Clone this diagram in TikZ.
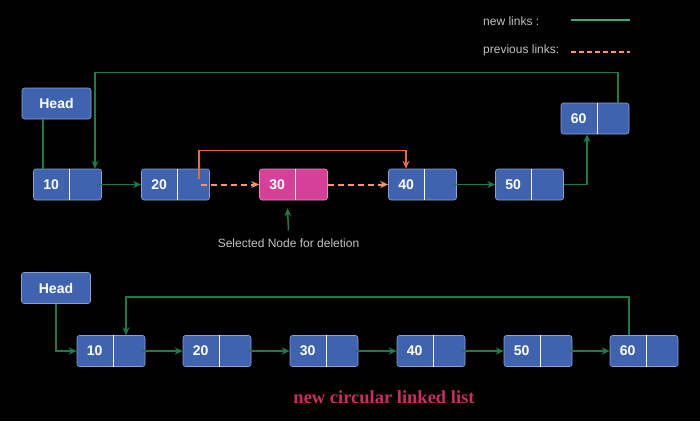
\documentclass[tikz,border=0pt]{standalone}
\usepackage{fontspec}
\setmainfont{Liberation Sans}
\newfontfamily\captionfont{Liberation Serif}
\usetikzlibrary{arrows.meta}

\definecolor{nodeblue}{RGB}{64,99,175}
\definecolor{nodepink}{RGB}{214,64,153}
\definecolor{linkgreen}{RGB}{30,122,70}
\definecolor{keygreen}{RGB}{70,165,110}
\definecolor{linkorange}{RGB}{226,110,64}
\definecolor{linkpeach}{RGB}{240,150,110}
\definecolor{captionred}{RGB}{200,45,100}
\definecolor{notegray}{RGB}{195,195,195}

\tikzset{
    listbox/.style={rectangle, rounded corners=2.5pt, line width=0.6pt, minimum width=68pt, minimum height=31pt, inner sep=0pt},
    headbox/.style={listbox, minimum width=69pt, fill=nodeblue, draw=nodeblue!60!white, text=white, font=\fontsize{14}{16}\selectfont\bfseries},
    valtext/.style={text=white, font=\fontsize{14}{16}\selectfont\bfseries, inner sep=0pt},
    newlink/.style={linkgreen, line width=1.5pt, -{Stealth[length=8pt,width=7pt]}},
    headlink/.style={linkgreen, line width=1.5pt},
    oldlink/.style={linkpeach, line width=2pt, dash pattern=on 6pt off 4pt, -{Stealth[length=8pt,width=7pt]}},
    redirect/.style={linkorange, line width=1.5pt, -{Stealth[length=8pt,width=7pt]}},
    note/.style={text=notegray, font=\fontsize{12}{14}\selectfont, inner sep=1pt},
}

% name, centre, value, colour
\newcommand{\listnode}[4]{%
    \node[listbox, fill=#4, draw=#4!60!white] (#1) at (#2) {};
    \draw[white, line width=0.8pt] ([xshift=36.5pt]#1.north west) -- ([xshift=36.5pt]#1.south west);
    \node[valtext] at ([xshift=18pt]#1.west) {#3};
}

\begin{document}
\begin{tikzpicture}[x=1pt, y=1pt]
    \fill[black] (0,0) rectangle (700,-421);
    \useasboundingbox (0,0) rectangle (700,-421);

    % legend
    \node[note, anchor=west] (newkey) at (482,-21) {new links :};
    \node[note, anchor=west] (oldkey) at (482,-50) {previous links:};
    \draw[keygreen, line width=1.6pt] (571,-20) -- (630,-20);
    \draw[linkpeach, line width=2pt, dash pattern=on 5pt off 3pt] (571,-52) -- (630,-52);

    % list before deletion
    \node[headbox] (head1) at (56.5,-103.5) {Head};
    \listnode{t10}{67.5,-184.5}{10}{nodeblue}
    \listnode{t20}{175.5,-184.5}{20}{nodeblue}
    \listnode{t30}{293.5,-184.5}{30}{nodepink}
    \listnode{t40}{422.5,-184.5}{40}{nodeblue}
    \listnode{t50}{529.5,-184.5}{50}{nodeblue}
    \listnode{t60}{595,-118.5}{60}{nodeblue}

    \coordinate (h1foot) at ([xshift=-13.5pt]head1.south);
    \draw[headlink] (h1foot) -- (h1foot |- t10.north);
    \draw[newlink] ([xshift=23pt]t60.north) -- ++(0,30) -| ([xshift=27.5pt]t10.north);
    \draw[newlink] ([xshift=-5pt]t10.east) -- (t20.west);
    \draw[oldlink] ([xshift=-9pt]t20.east) -- (t30.west);
    \coordinate (t20ptr) at ([xshift=-11pt,yshift=6pt]t20.east);
    \draw[redirect] (t20ptr) -- ++(0,28) -| ([xshift=-16.5pt]t40.north);
    \draw[oldlink] (t30.east) -- (t40.west);
    \draw[newlink] ([xshift=-5pt]t40.east) -- (t50.west);
    \draw[newlink] (t50.east) -| ([xshift=-8pt]t60.south);

    \node[note] (sel) at (288.5,-243) {Selected Node for deletion};
    \coordinate (t30mark) at ([xshift=-6pt,yshift=-8pt]t30.south);
    \draw[newlink] ([yshift=7pt]sel.north) -- (t30mark);

    % list after deletion
    \node[headbox] (head2) at (56,-288) {Head};
    \listnode{b10}{111,-351}{10}{nodeblue}
    \listnode{b20}{217,-351}{20}{nodeblue}
    \listnode{b30}{324,-351}{30}{nodeblue}
    \listnode{b40}{431,-351}{40}{nodeblue}
    \listnode{b50}{538,-351}{50}{nodeblue}
    \listnode{b60}{644,-351}{60}{nodeblue}

    \draw[newlink] (head2.south) |- (b10.west);
    \foreach \a/\b in {b10/b20, b20/b30, b30/b40, b40/b50, b50/b60}
        \draw[newlink] ([xshift=-3pt]\a.east) -- (\b.west);
    \draw[newlink] ([xshift=-15pt]b60.north) -- ++(0,38) -| ([xshift=15pt]b10.north);

    \node[text=captionred, font=\captionfont\bfseries\fontsize{18.5}{20}\selectfont] (cap) at (384,-397) {new circular linked list};
\end{tikzpicture}
\end{document}
